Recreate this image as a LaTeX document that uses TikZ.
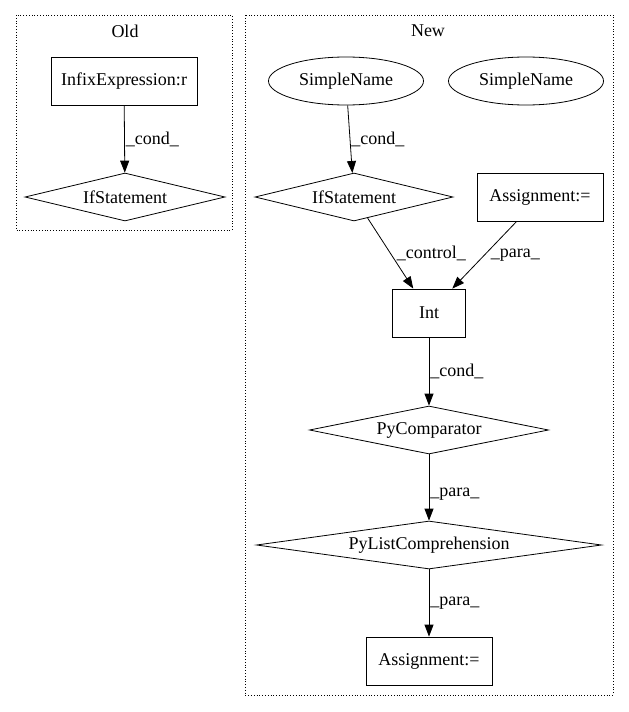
\documentclass[tikz,border=0pt]{standalone}
\usepackage{fontspec}
\setmainfont{Liberation Serif}
\usetikzlibrary{shapes.geometric,arrows.meta}
\begin{document}
\begin{tikzpicture}[x=1pt,y=-1pt,
		every node/.style={font=\fontsize{18}{20}\selectfont},
		box/.style={draw, line width=0.8pt, rectangle, inner sep=0pt, minimum height=48pt},
		cond/.style={draw, line width=0.8pt, diamond, aspect=7, inner sep=0pt, minimum height=48pt},
		leaf/.style={draw, line width=0.8pt, ellipse, inner sep=0pt, minimum width=155pt, minimum height=48pt},
		edge/.style={line width=0.8pt, -{Triangle[length=12pt,width=9pt]}},
		lbl/.style={right, inner sep=1pt}]
	\useasboundingbox (0,0) rectangle (629,712);
	% clusters
	\draw[dotted, line width=0.8pt] (16,15) rectangle (232,230);
	\node (old) at (125,31) {Old};
	\draw[dotted, line width=0.8pt] (245,15) rectangle (613,695);
	\node (new) at (428,31) {New};
	% old
	\node[box, minimum width=146pt] (infix) at (124,81) {InfixExpression:r};
	\node[cond, minimum width=200pt] (ifold) at (125,197) {IfStatement};
	\draw[edge] (infix) -- node[lbl] {\_cond\_} (ifold);
	% new
	\node[leaf] (sn1) at (346,81) {SimpleName};
	\node[leaf] (sn2) at (526,81) {SimpleName};
	\node[cond, minimum width=198pt] (ifnew) at (354,197) {IfStatement};
	\node[box, minimum width=126pt] (asgtop) at (540,197) {Assignment:=};
	\node[box, minimum width=73pt] (int) at (429,313) {Int};
	\node[cond, minimum width=239pt] (pycmp) at (429,430) {PyComparator};
	\node[cond, minimum width=345pt] (pylist) at (429,545) {PyListComprehension};
	\node[box, minimum width=126pt] (asgbot) at (429,661) {Assignment:=};
	\draw[edge] (sn1) -- node[lbl] {\_cond\_} (ifnew);
	\draw[edge] (ifnew) -- node[lbl, right=5pt] {\_control\_} (int);
	\draw[edge] (asgtop) -- node[lbl, right=5pt] {\_para\_} (int);
	\draw[edge] (int) -- node[lbl] {\_cond\_} (pycmp);
	\draw[edge] (pycmp) -- node[lbl, pos=0.6] {\_para\_} (pylist);
	\draw[edge] (pylist) -- node[lbl] {\_para\_} (asgbot);
\end{tikzpicture}
\end{document}
